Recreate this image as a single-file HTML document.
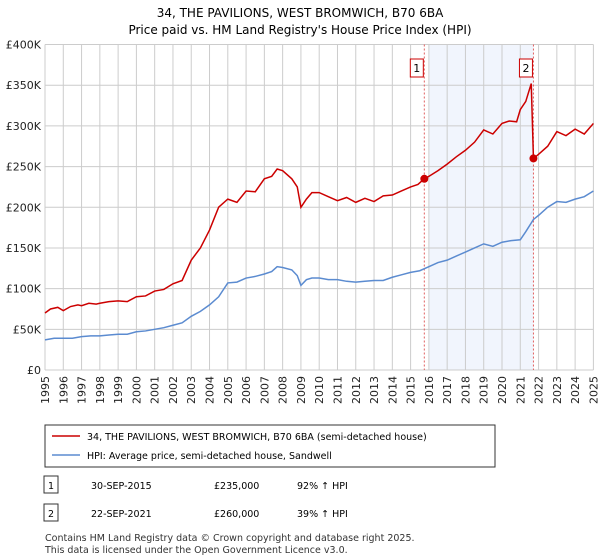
<!DOCTYPE html>
<html><head><meta charset="utf-8">
<style>
body{margin:0;background:#fff;font-family:"DejaVu Sans",sans-serif;color:#222}
#wrap{position:relative;width:600px;height:560px;overflow:hidden}
</style></head>
<body><div id="wrap">
<svg id="chart" width="600" height="560" font-family="DejaVu Sans, sans-serif"></svg>
</div>
<script>
const yearTicks=[1995,1996,1997,1998,1999,2000,2001,2002,2003,2004,2005,2006,2007,2008,2009,2010,2011,2012,2013,2014,2015,2016,2017,2018,2019,2020,2021,2022,2023,2024,2025];
const valueTicks=[0,50,100,150,200,250,300,350,400];
const valueTickLabels=["£0","£50K","£100K","£150K","£200K","£250K","£300K","£350K","£400K"];
const priceYears=[1995,1995.3,1995.7,1996,1996.4,1996.8,1997,1997.4,1997.8,1998,1998.5,1999,1999.5,2000,2000.5,2001,2001.5,2002,2002.5,2003,2003.5,2004,2004.5,2005,2005.5,2006,2006.5,2007,2007.4,2007.7,2008,2008.5,2008.8,2009,2009.3,2009.6,2010,2010.5,2011,2011.5,2012,2012.5,2013,2013.5,2014,2014.5,2015,2015.4,2015.75,2016,2016.5,2017,2017.5,2018,2018.5,2019,2019.5,2020,2020.4,2020.8,2021,2021.3,2021.6,2021.72,2022,2022.5,2023,2023.5,2024,2024.5,2025];
const priceValues=[70,75,77,73,78,80,79,82,81,82,84,85,84,90,91,97,99,106,110,135,150,172,200,210,206,220,219,235,238,247,245,235,225,200,210,218,218,213,208,212,206,211,207,214,215,220,225,228,235,238,245,253,262,270,280,295,290,303,306,305,320,330,352,260,265,275,293,288,296,290,303];
const hpiYears=[1995,1995.5,1996,1996.5,1997,1997.5,1998,1998.5,1999,1999.5,2000,2000.5,2001,2001.5,2002,2002.5,2003,2003.5,2004,2004.5,2005,2005.5,2006,2006.5,2007,2007.4,2007.7,2008,2008.5,2008.8,2009,2009.3,2009.6,2010,2010.5,2011,2011.5,2012,2012.5,2013,2013.5,2014,2014.5,2015,2015.5,2016,2016.5,2017,2017.5,2018,2018.5,2019,2019.5,2020,2020.5,2021,2021.3,2021.72,2022,2022.5,2023,2023.5,2024,2024.5,2025];
const hpiValues=[37,39,39,39,41,42,42,43,44,44,47,48,50,52,55,58,66,72,80,90,107,108,113,115,118,121,127,126,123,116,104,111,113,113,111,111,109,108,109,110,110,114,117,120,122,127,132,135,140,145,150,155,152,157,159,160,170,185,190,200,207,206,210,213,220];
const saleYears=[2015.75,2021.72];
const saleValues=[235,260];
const saleLabels=["1","2"];

const L=45,R=593.4,T=44.5,B=370;
const x=y=>L+(y-1995)/(2025-1995)*(R-L);
const yv=v=>B-v/400*(B-T);
const svg=document.getElementById('chart');
const NS='http://www.w3.org/2000/svg';
function mk(tag,attrs,parent){const e=document.createElementNS(NS,tag);for(const k in attrs)e.setAttribute(k,attrs[k]);(parent||svg).appendChild(e);return e;}

let t=mk('text',{x:300,y:17,'text-anchor':'middle','font-size':12});


t.textContent='34, THE PAVILIONS, WEST BROMWICH, B70 6BA';
t=mk('text',{x:300,y:34,'text-anchor':'middle','font-size':12});


t.textContent="Price paid vs. HM Land Registry's House Price Index (HPI)";

let sh=mk('rect',{x:x(2016),y:T,width:x(saleYears[1])-x(2016),height:B-T,fill:'#eef3fc',opacity:0.8});



yearTicks.forEach(yr=>{
 let g=mk('line',{x1:x(yr),x2:x(yr),y1:T,y2:B,stroke:'#ccc','stroke-width':1});
 
 
 let lb=mk('text',{transform:`translate(${x(yr)+4},${B+6}) rotate(-90)`,'text-anchor':'end','font-size':11,fill:'#222'});
 
 
 lb.textContent=yr;
});
valueTicks.forEach((v,i)=>{
 let g=mk('line',{x1:L,x2:R,y1:yv(v),y2:yv(v),stroke:'#ccc','stroke-width':1});
 
 
 let lb=mk('text',{x:L-4,y:yv(v)+4,'text-anchor':'end','font-size':11,fill:'#222'});
 
 
 lb.textContent=valueTickLabels[i];
});

saleYears.forEach((yr,i)=>{
 let l=mk('line',{x1:x(yr),x2:x(yr),y1:T,y2:B,stroke:'#e06060','stroke-width':1,'stroke-dasharray':'2,2'});
 
 
});

let hp=mk('polyline',{points:hpiYears.map((yr,i)=>x(yr)+','+yv(hpiValues[i])).join(' '),fill:'none',stroke:'#5b8bd0','stroke-width':1.5});


let pp=mk('polyline',{points:priceYears.map((yr,i)=>x(yr)+','+yv(priceValues[i])).join(' '),fill:'none',stroke:'#cc0000','stroke-width':1.5});



saleYears.forEach((yr,i)=>{
 let c=mk('circle',{cx:x(yr),cy:yv(saleValues[i]),r:4,fill:'#cc0000'});
 
 
 let bx=mk('rect',{x:x(yr)-14,y:59,width:13,height:18,fill:'#fff',stroke:'#cc0000'});
 
 
 let tx=mk('text',{x:x(yr)-7.5,y:72,'text-anchor':'middle','font-size':11});
 
 
 tx.textContent=saleLabels[i];
});

let lg=mk('rect',{x:45,y:425,width:450,height:42,fill:'#fff',stroke:'#333'});


let l1=mk('line',{x1:52,x2:80,y1:436,y2:436,stroke:'#cc0000','stroke-width':1.5});


let t1=mk('text',{x:87,y:440,'font-size':9.5});


t1.textContent='34, THE PAVILIONS, WEST BROMWICH, B70 6BA (semi-detached house)';
let l2=mk('line',{x1:52,x2:80,y1:455,y2:455,stroke:'#5b8bd0','stroke-width':1.5});


let t2=mk('text',{x:87,y:459,'font-size':9.5});


t2.textContent='HPI: Average price, semi-detached house, Sandwell';

const rows=[["1","30-SEP-2015","£235,000","92% ↑ HPI",486],["2","22-SEP-2021","£260,000","39% ↑ HPI",514]];
rows.forEach(r=>{
 let b=mk('rect',{x:44,y:r[4]-10,width:14,height:17,fill:'#fff',stroke:'#333'});
 
 
 const cols=[[51,r[0],'middle'],[91,r[1],'start'],[214,r[2],'start'],[297,r[3],'start']];
 cols.forEach(c=>{let e=mk('text',{x:c[0],y:r[4]+3,'font-size':9.5,'text-anchor':c[2]});
  
  
  e.textContent=c[1];});
});
let f1=mk('text',{x:45,y:541,'font-size':9.5,fill:'#333'});


f1.textContent='Contains HM Land Registry data © Crown copyright and database right 2025.';
let f2=mk('text',{x:45,y:553,'font-size':9.5,fill:'#333'});


f2.textContent='This data is licensed under the Open Government Licence v3.0.';
</script>
</body></html>
